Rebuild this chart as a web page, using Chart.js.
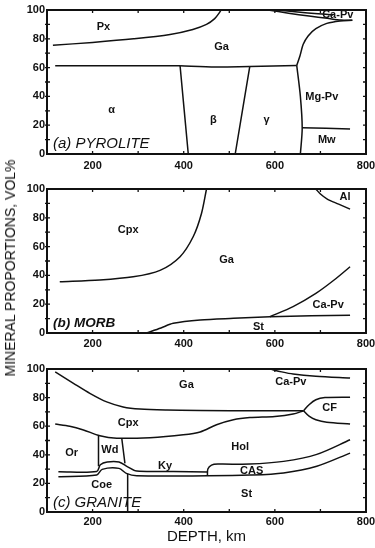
<!DOCTYPE html>
<html>
<head>
<meta charset="utf-8">
<script src="https://cdn.jsdelivr.net/npm/chart.js@4"></script>
<style>
  html, body { margin: 0; padding: 0; background: #fff; overflow: hidden; }
  #wrap { position: relative; width: 375px; height: 548px; overflow: hidden; }
  canvas { position: absolute; left: 0; }
  #ytitle {
    position: absolute; left: 10px; top: 268px;
    transform: translate(-50%, -50%) rotate(-90deg);
    white-space: nowrap; font: 14px "Liberation Sans", Arial, sans-serif; color: #111;
  }
</style>
</head>
<body>
<div id="wrap">
  <canvas id="chartA" width="385" height="172" style="top:0px"></canvas>
  <canvas id="chartB" width="385" height="175" style="top:172px"></canvas>
  <canvas id="chartC" width="385" height="201" style="top:347px"></canvas>
  <div id="ytitle">MINERAL PROPORTIONS, VOL%</div>
</div>
<script>
// Axis ticks
const xTicks = [200, 400, 600, 800];
const yTicks = [0, 20, 40, 60, 80, 100];
const xMinor = [200, 300, 400, 500, 600, 700];
const yMinor = [10, 20, 30, 40, 50, 60, 70, 80, 90];

// (a) Pyrolite boundaries  [depth km, vol %]
const pxGa      = [[113,75.5],[200,77.5],[290,80],[370,83],[420,86.5],[450,90],[468,94],[478,98],[482,100]];
const alphaTop  = [[118,61.3],[392,61.3]];
const alphaBeta = [[392,61.3],[410,0]];
const betaTop   = [[392,61.3],[470,60.5],[545,60.8]];
const betaGamma = [[545,60.8],[513,0]];
const gammaTop  = [[545,60.8],[648,61.5]];
const gammaPv   = [[648,61.5],[656,40],[660,18],[656,0]];
const gaMgPv    = [[648,61.5],[655,68],[662,76],[673,82],[690,87],[714,90.7],[743,92.4],[770,92.8]];
const gaCaPvA   = [[585,100],[630,97.8],[675,95.8],[715,94.2],[745,93],[770,92.8]];
const caPvLens  = [[605,100],[650,98.6],[695,97.4],[728,96.6]];
const mwPv      = [[660,18.3],[765,17.4]];

// (b) MORB boundaries
const cpxGa     = [[128,35.6],[216,36.8],[289,39],[348,43.5],[392,53],[421,67],[439,83],[450,100]];
const gaSt      = [[318,0],[350,3.5],[377,6.7],[436,9],[509,10.2],[589,11.3],[680,12],[765,12.3]];
const gaCaPvB   = [[589,11.3],[640,18.3],[690,27.5],[730,36.8],[765,46]];
const gaAl      = [[690,100],[700,96.5],[715,93],[740,89.5],[765,86]];

// (c) Granite boundaries
const gaCaPvC   = [[589,100],[615,98],[640,96.5],[690,95],[765,93.7]];
const gaCpxC    = [[118,98],[158,90],[194,83],[231,77],[267,73.5],[304,72],[363,71.3],[436,71],[567,70.8],[663,70.8]];
const cfTop     = [[663,70.8],[675,75],[690,78.5],[710,80],[765,80.3]];
const cfBot     = [[663,70.8],[675,67],[690,64.5],[714,62.7],[765,61.5]];
const cpxHol    = [[118,61.5],[150,60],[180,57.4],[216,53.3],[253,51.6],[326,52],[399,54],[436,56],[472,61],[509,64.5],[545,66],[600,66.8],[640,68.5],[663,70.8]];
const orWd      = [[213,53.3],[213,32]];
const wdHol     = [[264,51.7],[271,34]];
const kyUpper   = [[125,28.2],[209,28.4],[217,33],[232,35],[258,35],[277,31.6],[297,28.6],[377,28.4],[452,28]];
const kyLower   = [[125,24.7],[209,25.9],[221,29.8],[258,30.5],[274,27],[297,25.3],[452,25.3],[545,25.8],[619,27.3],[692,32],[765,41.2]];
const casTop    = [[452,25.3],[453,30],[461,32.8],[475,33.5],[545,33.5],[619,35.4],[692,40.3],[765,50.5]];
const coeSt     = [[277,26.8],[277,0]];

// Region labels  [text, depth km, vol %]
const labelsA = [['Px',224,88],['Ga',483,74.5],['Ca-Pv',738,96.3],['α',242,30.5],['β',465,23.6],['γ',582,23.6],['Mg-Pv',703,39.8],['Mw',714,9.7]];
const labelsB = [['Cpx',278,71.5],['Ga',494,50.7],['Al',754,94.7],['Ca-Pv',717,19.4],['St',564,4.4]];
const labelsC = [['Ga',406,88.8],['Ca-Pv',635,91],['CF',720,73],['Cpx',278,62],['Hol',524,45.8],['Or',154,41],['Wd',238,43.5],['Ky',359,32.5],['CAS',549,28.5],['Coe',220,19],['St',538,12.5]];

Chart.defaults.font.family = '"Liberation Sans", Arial, sans-serif';
Chart.defaults.color = '#111';

// frame, inward tick marks and text labels
const framePlugin = {
  id: 'frame',
  afterDraw(chart, args, opts) {
    const { ctx, chartArea: a, scales: { x, y } } = chart;
    ctx.save();
    ctx.strokeStyle = '#111';
    ctx.lineWidth = 1.3;
    ctx.beginPath();
    xMinor.forEach(v => {
      const px = x.getPixelForValue(v);
      ctx.moveTo(px, a.top); ctx.lineTo(px, a.top + 3);
      ctx.moveTo(px, a.bottom); ctx.lineTo(px, a.bottom - 3);
    });
    yMinor.forEach(v => {
      const py = y.getPixelForValue(v);
      ctx.moveTo(a.left, py); ctx.lineTo(a.left + 3, py);
      ctx.moveTo(a.right, py); ctx.lineTo(a.right - 3, py);
      ctx.moveTo(a.left, py); ctx.lineTo(a.left - 2, py);
    });
    ctx.stroke();
    ctx.lineWidth = 2;
    ctx.strokeRect(a.left, a.top, a.right - a.left, a.bottom - a.top);

    ctx.fillStyle = '#111';
    ctx.textAlign = 'center';
    ctx.textBaseline = 'middle';
    ctx.font = 'bold 11px "Liberation Sans", Arial, sans-serif';
    opts.labels.forEach(([t, km, v]) => {
      ctx.fillText(t, x.getPixelForValue(km), y.getPixelForValue(v));
    });
    ctx.textAlign = 'left';
    ctx.font = opts.titleFont;
    ctx.fillText(opts.title, x.getPixelForValue(113), y.getPixelForValue(opts.titleY));
    ctx.restore();
  }
};

function lineSet(pts) {
  return {
    data: pts.map(([x, y]) => ({ x, y })),
    showLine: true,
    borderColor: '#111',
    borderWidth: 1.5,
    pointRadius: 0,
    tension: 0.3,
    fill: false
  };
}

function makeChart(id, lines, labels, title, titleY, titleFont, padTop, xHeight, tickPad, xTitle) {
  return new Chart(document.getElementById(id), {
    type: 'scatter',
    data: { datasets: lines.map(lineSet) },
    options: {
      responsive: false,
      animation: false,
      layout: { padding: { top: padTop, right: 19, left: 0, bottom: 0 } },
      plugins: {
        legend: { display: false },
        tooltip: { enabled: false },
        frame: { labels, title, titleY, titleFont }
      },
      scales: {
        x: {
          type: 'linear', min: 100, max: 800,
          afterBuildTicks: s => { s.ticks = xTicks.map(v => ({ value: v })); },
          afterFit: s => { s.height = xHeight; },
          ticks: { font: { size: 11, weight: 'bold' }, padding: tickPad, maxRotation: 0 },
          grid: { drawOnChartArea: false, drawTicks: false },
          border: { display: false },
          title: xTitle
            ? { display: true, text: xTitle, font: { size: 15 }, padding: { top: 0, bottom: 2 } }
            : { display: false }
        },
        y: {
          min: 0, max: 100,
          afterBuildTicks: s => { s.ticks = yTicks.map(v => ({ value: v })); },
          afterFit: s => { s.width = 47; },
          ticks: { font: { size: 11, weight: 'bold' }, padding: 2 },
          grid: { drawOnChartArea: false, drawTicks: false },
          border: { display: false }
        }
      }
    },
    plugins: [framePlugin]
  });
}

makeChart('chartA',
  [pxGa, alphaTop, alphaBeta, betaTop, betaGamma, gammaTop, gammaPv, gaMgPv, gaCaPvA, caPvLens, mwPv],
  labelsA, '(a) PYROLITE', 7.4, 'italic 15px "Liberation Sans", Arial, sans-serif', 10, 18, 5);

makeChart('chartB',
  [cpxGa, gaSt, gaCaPvB, gaAl],
  labelsB, '(b) MORB', 6.7, 'italic bold 13.5px "Liberation Sans", Arial, sans-serif', 17, 14, 4);

makeChart('chartC',
  [gaCaPvC, gaCpxC, cfTop, cfBot, cpxHol, orWd, wdHol, kyUpper, kyLower, casTop, coeSt],
  labelsC, '(c) GRANITE', 6.3, 'italic 15px "Liberation Sans", Arial, sans-serif', 22, 36, 3, 'DEPTH, km');
</script>
</body>
</html>
